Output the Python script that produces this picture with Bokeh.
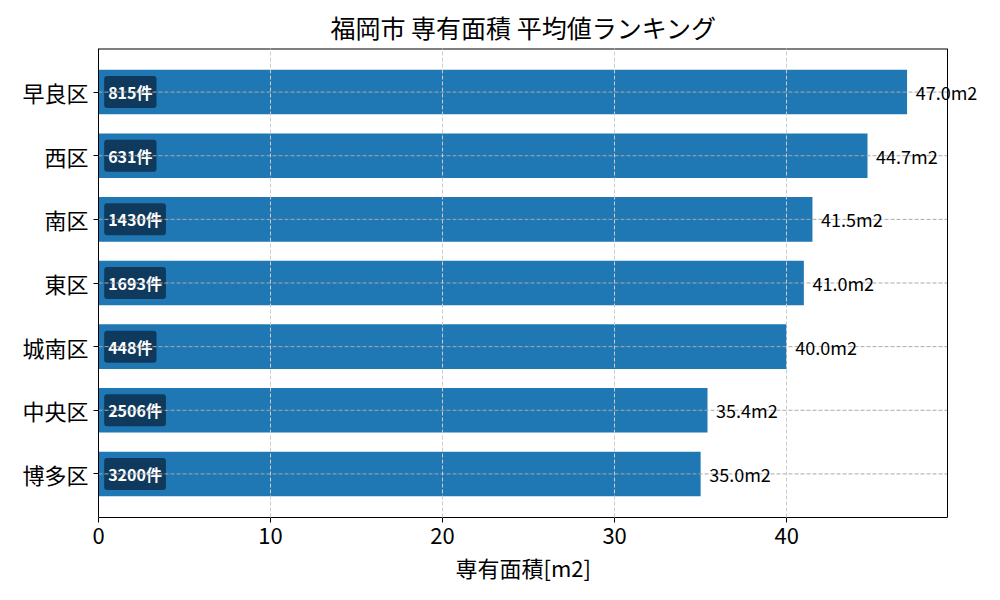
from bokeh.plotting import figure
from bokeh.models import Range1d, FixedTicker, ColumnDataSource, LabelSet, Span, Title
from bokeh.core.properties import value
from bokeh.embed import file_html
from bokeh.resources import INLINE

# data (bottom to top)
wards = ["博多区", "中央区", "城南区", "東区", "南区", "西区", "早良区"]
avg_area = [35.0, 35.4, 40.0, 41.0, 41.5, 44.7, 47.0]
counts = [3200, 2506, 448, 1693, 1430, 631, 815]

FONT = "Noto Sans CJK JP"
X_MAX = 49.35          # visible axes limit
Y_LO, Y_HI = -0.685, 6.685
PX_PER_UNIT = 849 / X_MAX

src = ColumnDataSource(dict(
    y=list(range(len(wards))),
    area=avg_area,
    lab_x=[v + 0.5 for v in avg_area],
    val_lab=["%.1fm2" % v for v in avg_area],
    cnt_x=[0.33] * len(wards),
    cnt_lab=["%d件" % c for c in counts],
    g0=[0] * len(wards),
    g1=[X_MAX] * len(wards),
))

# frame is wider than the axes so that the value labels can run past the spine
frame_w = 984 - 98 - 4
p = figure(width=984, height=584, output_backend="svg", toolbar_location=None,
           x_range=Range1d(0, frame_w / PX_PER_UNIT), y_range=Range1d(Y_LO, Y_HI),
           min_border_left=98, min_border_right=4, min_border_top=48, min_border_bottom=10)
p.outline_line_color = None

p.add_layout(Title(text="福岡市 専有面積 平均値ランキング", align="left", offset=232,
                   standoff=7, text_font=FONT, text_font_size="25px",
                   text_font_style="normal", text_color="black"), "above")

p.hbar(y="y", right="area", left=0, height=0.7, source=src,
       color="#1f77b4", line_color=None)

# count labels in dark boxes
p.text(x="cnt_x", y="y", text="cnt_lab", source=src,
       text_font=value(FONT), text_font_size="16px", text_font_style="bold",
       text_baseline="middle", text_color="white",
       background_fill_color="#0e2f4d", background_fill_alpha=0.85,
       padding=4, border_radius=3)

# horizontal grid lines (over the bars)
p.segment(x0="g0", x1="g1", y0="y", y1="y", source=src,
          line_color="#aaaaaa", line_dash="4 2", line_width=1)

# value labels at bar ends
p.add_layout(LabelSet(x="lab_x", y="y", text="val_lab", source=src,
                      text_font=value(FONT), text_font_size="18px",
                      text_baseline="middle", text_color="black"))

# top and right spines
p.segment(x0=[0], x1=[X_MAX], y0=[Y_HI], y1=[Y_HI], line_color="black", line_width=2)
p.add_layout(Span(location=X_MAX, dimension="height", line_color="black", line_width=1))

# axes
p.yaxis.ticker = FixedTicker(ticks=list(range(len(wards))))
p.yaxis.major_label_overrides = {i: w for i, w in enumerate(wards)}
p.xaxis.ticker = FixedTicker(ticks=[0, 10, 20, 30, 40])
p.xaxis.bounds = (0, X_MAX)
for ax in (p.xaxis, p.yaxis):
    ax.major_label_text_font = FONT
    ax.major_label_text_font_size = "22px"
    ax.major_label_text_color = "black"
    ax.axis_line_color = "black"
    ax.major_tick_line_color = "black"
    ax.major_tick_out = 5
    ax.major_tick_in = 0
    ax.minor_tick_line_color = None

p.add_layout(Title(text="専有面積[m2]", align="left", offset=357, standoff=4,
                   text_font=FONT, text_font_size="22px", text_font_style="normal",
                   text_color="black"), "below")

# vertical grid (over the bars)
p.xgrid.level = "overlay"
p.xgrid.grid_line_color = "#cccccc"
p.xgrid.grid_line_dash = "4 2"
p.ygrid.grid_line_color = None

open("out.html", "w").write(file_html(p, INLINE))
